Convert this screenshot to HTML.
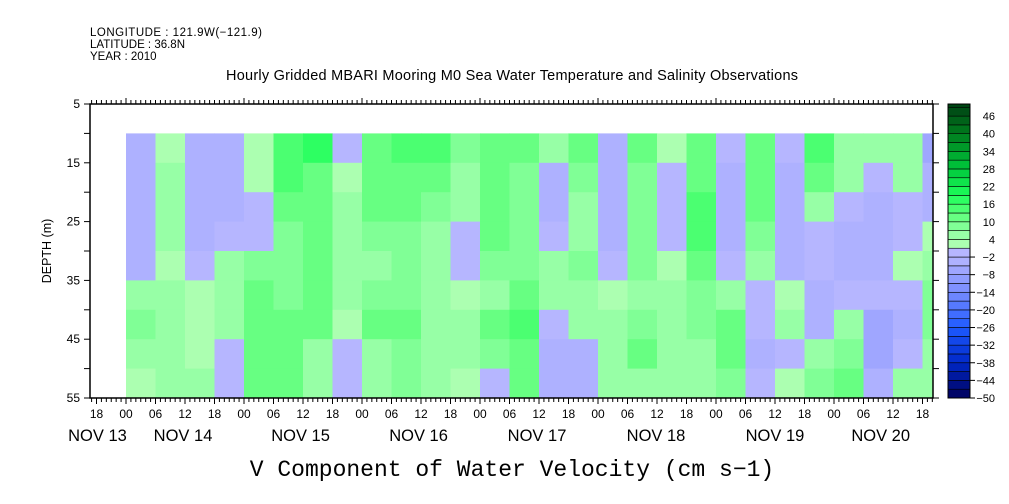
<!DOCTYPE html>
<html><head><meta charset="utf-8">
<style>
html,body{margin:0;padding:0;background:#fff;}
svg{display:block;font-family:"Liberation Sans",sans-serif;}
</style></head>
<body>
<svg id="chart" width="1009" height="504" viewBox="0 0 1009 504" xmlns="http://www.w3.org/2000/svg">
<text x="90" y="36" font-size="11.5" textLength="172">LONGITUDE : 121.9W(−121.9)</text>
<text x="90" y="48" font-size="11.5">LATITUDE : 36.8N</text>
<text x="90" y="60" font-size="11.5">YEAR : 2010</text>
<text x="512" y="80" font-size="14.5" text-anchor="middle" textLength="572">Hourly Gridded MBARI Mooring M0 Sea Water Temperature and Salinity Observations</text>
<text x="512" y="476" font-size="23" text-anchor="middle" font-family="Liberation Mono, monospace">V Component of Water Velocity (cm s−1)</text>
<text transform="translate(51,251) rotate(-90)" font-size="12.5" text-anchor="middle">DEPTH (m)</text>
<defs><clipPath id="dclip"><rect x="90" y="104" width="843" height="294"/></clipPath></defs>
<g id="cells" clip-path="url(#dclip)"></g>
<g id="axes"></g>
<g id="cbar"></g>
</svg>
<script>
// time of each column start (hours since Nov 14 00:00), 6-hour bins
const colHours = [0,6,12,18,24,30,36,42,48,54,60,66,72,78,84,90,96,102,108,114,120,126,132,138,144,150,156,162];
// depth bins (m, top of bin), 5 m
const depthBins = [10,15,20,25,30,35,40,45,50];
// velocity values [column][depth bin], cm/s
const vel0 = [-4,-4,-4,-4,-3,4,8,6,3];
const vel1 = [2,4,6,4,2,6,6,4,6];
const vel2 = [-4,-4,-4,-3,-1,3,3,2,5];
const vel3 = [-4,-4,-3,-2,4,6,6,0,-2];
const vel4 = [2,2,-2,-2,8,10,10,10,10];
const vel5 = [15,14,10,8,8,8,10,12,10];
const vel6 = [16,12,10,10,10,12,10,6,4];
const vel7 = [-2,2,5,6,4,4,3,0,-2];
const vel8 = [10,12,10,8,6,8,10,6,4];
const vel9 = [14,12,10,8,8,8,10,8,8];
const vel10 = [14,12,8,6,6,6,6,6,4];
const vel11 = [8,6,4,-2,-2,2,6,6,2];
const vel12 = [12,12,10,10,8,6,10,8,-2];
const vel13 = [10,8,8,8,8,12,14,12,12];
const vel14 = [6,-4,-4,-2,4,4,-2,-4,-4];
const vel15 = [12,8,4,6,8,6,4,-4,-3];
const vel16 = [-4,-4,-4,-4,-2,2,4,6,4];
const vel17 = [10,8,8,8,8,6,8,10,6];
const vel18 = [2,0,-2,-2,2,4,6,6,6];
const vel19 = [10,12,14,14,10,8,8,6,4];
const vel20 = [-2,-4,-4,-4,-2,4,10,12,8];
const vel21 = [12,12,12,8,4,0,-2,-4,-2];
const vel22 = [-2,-4,-4,-4,-4,2,6,-2,2];
const vel23 = [14,12,6,0,-2,-4,-4,6,8];
const vel24 = [6,6,-2,-4,-4,-2,4,8,10];
const vel25 = [6,-2,-4,-4,-4,-2,-6,-6,-4];
const vel26 = [6,4,-2,-2,2,0,-4,-2,4];
const vel27 = [-6,-4,-4,2,6,8,8,6,4];
const velocity = [vel0,vel1,vel2,vel3,vel4,vel5,vel6,vel7,vel8,vel9,vel10,vel11,vel12,vel13,vel14,vel15,vel16,vel17,vel18,vel19,vel20,vel21,vel22,vel23,vel24,vel25,vel26,vel27];
const depthTicks = [5,15,25,35,45,55];
const hourLabels = ["18","00","06","12","18","00","06","12","18","00","06","12","18","00","06","12","18","00","06","12","18","00","06","12","18","00","06","12","18","00","06","12","18"];
const dayLabels = ["NOV 13","NOV 14","NOV 15","NOV 16","NOV 17","NOV 18","NOV 19","NOV 20"];
const dayLabelHours = [-5.8,11.6,35.5,59.5,83.6,107.8,132,153.5];
const cbarLabels = [46,40,34,28,22,16,10,4,-2,-8,-14,-20,-26,-32,-38,-44,-50];

const NS="http://www.w3.org/2000/svg";
const X0=126, PXH=118/24;
const xs = h => X0 + h*PXH;
const ys = d => 104 + (d-5)*(294/50);
function mk(tag, attrs, parent){const e=document.createElementNS(NS,tag);for(const k in attrs)e.setAttribute(k,attrs[k]);parent.appendChild(e);return e;}
function lerp(a,b,t){return a.map((v,i)=>Math.round(v+(b[i]-v)*t));}
function ramp(stops,v){for(let i=0;i<stops.length-1;i++){if(v<=stops[i+1][0]){const t=(v-stops[i][0])/(stops[i+1][0]-stops[i][0]);return lerp(stops[i][1],stops[i+1][1],Math.max(0,Math.min(1,t)));}}return stops[stops.length-1][1];}
const negStops=[[-50,[0,0,90]],[-38,[0,40,200]],[-26,[30,90,255]],[-14,[120,140,255]],[-2,[182,182,255]]];
const posStops=[[1,[182,255,182]],[7,[140,255,160]],[13,[90,255,120]],[19,[30,255,90]],[28,[0,200,60]],[40,[0,125,30]],[49,[0,70,20]]];
function color(v){const b=Math.floor((v+50)/3)*3-50+1.5; const c = b<0?ramp(negStops,b):ramp(posStops,b); return `rgb(${c[0]},${c[1]},${c[2]})`;}

const cells=document.getElementById('cells');
velocity.forEach((col,i)=>{col.forEach((v,j)=>{
  const r=mk('rect',{x:xs(colHours[i]),y:ys(depthBins[j]),width:6*PXH+0.5,height:5*294/50+0.5,fill:color(v)},cells);
  
  
});});

const ax=document.getElementById('axes');
mk('rect',{x:90,y:104,width:843,height:294,fill:'none',stroke:'#000','stroke-width':1.5},ax);
for(let h=-7;h<=164;h++){const x=xs(h); if(x<90||x>933)continue; const major=((h%6)+6)%6===0;
  mk('line',{x1:x,y1:398,x2:x,y2:398+(major?6:4),stroke:'#000'},ax);
  mk('line',{x1:x,y1:104,x2:x,y2:104-(h%24===0?6:4),stroke:'#000'},ax);}
hourLabels.forEach((l,i)=>{const h=-6+i*6; if(xs(h)>935) return; const t=mk('text',{x:xs(h),y:418,'font-size':12,'text-anchor':'middle'},ax);t.textContent=l;
  
  });
dayLabels.forEach((l,i)=>{const t=mk('text',{x:xs(dayLabelHours[i]),y:441,'font-size':16.5,'text-anchor':'middle'},ax);t.textContent=l;
  
  });
for(let d=5;d<=55;d+=5){const y=ys(d);
  mk('line',{x1:90,y1:y,x2:84,y2:y,stroke:'#000'},ax);
  mk('line',{x1:933,y1:y,x2:939,y2:y,stroke:'#000'},ax);}
depthTicks.forEach(d=>{const t=mk('text',{x:80,y:ys(d)+4,'font-size':12,'text-anchor':'end'},ax);t.textContent=d;
  
  });

const cb=document.getElementById('cbar');
const BH=8.81;
for(let lv=-50;lv<50;lv+=3){const y1=398-((lv+50)/3+1)*BH; const top=Math.max(104,y1);
  const r=mk('rect',{x:948,y:top,width:22,height:398-((lv+50)/3)*BH-top,fill:color(lv+0.5),stroke:'#000','stroke-width':0.6},cb);
  
  }
mk('rect',{x:948,y:104,width:22,height:294,fill:'none',stroke:'#000','stroke-width':1},cb);
cbarLabels.forEach(v=>{const y=398-((v+50)/3)*BH; if(v<0)mk('line',{x1:970,y1:y,x2:975,y2:y,stroke:'#000'},cb);
  const t=mk('text',{x:995,y:y+4,'font-size':11,'text-anchor':'end'},cb);t.textContent=v<0?'−'+(-v):v;
  
  });
</script>
</body></html>
